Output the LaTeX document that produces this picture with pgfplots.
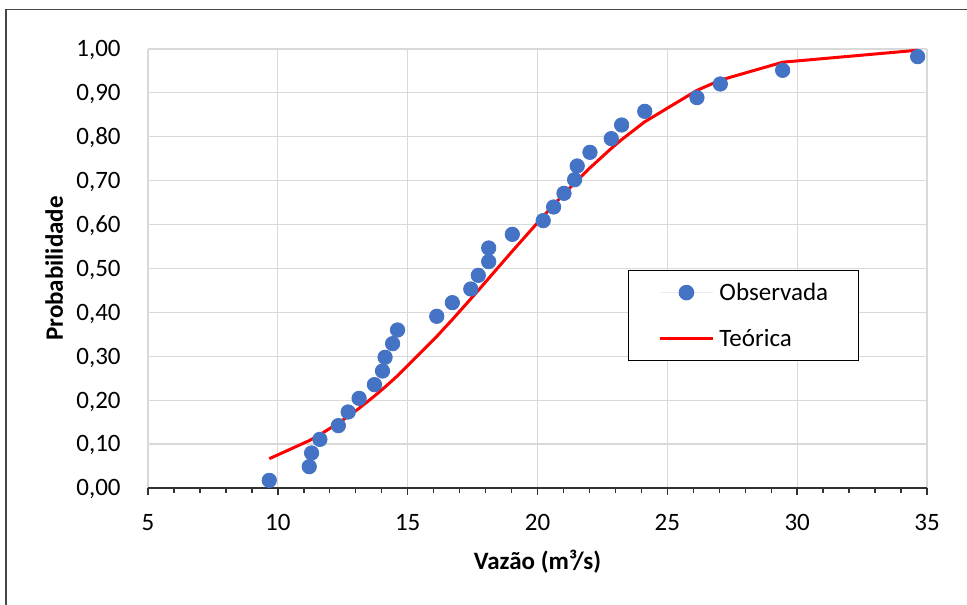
\documentclass[border=0pt]{standalone}
\usepackage{pgfplots}
\pgfplotsset{compat=1.18}
\usepackage{fontspec}
\setmainfont{Carlito}
\definecolor{obsblue}{RGB}{68,114,196}
\definecolor{gridgray}{RGB}{217,217,217}
\definecolor{framegray}{RGB}{70,70,70}
\definecolor{axisdark}{RGB}{50,50,50}
\newcommand{\fs}{\fontsize{12.5}{15}\selectfont}
\pgfplotsset{
  markleg/.style={legend image code/.code={\path[draw=none] (0pt,0pt) -- (26.5pt,0pt);
    \path[##1] plot coordinates {(13.25pt,0pt)};}},
  lineleg/.style={legend image code/.code={\draw[##1] (0pt,0pt) -- (26.5pt,0pt);}},
}
\pgfplotstableread{
x y
9.67 0.0174
11.21 0.0486
11.30 0.0797
11.62 0.1108
12.33 0.1420
12.71 0.1731
13.13 0.2042
13.72 0.2354
14.03 0.2665
14.13 0.2977
14.42 0.3288
14.61 0.3599
16.12 0.3911
16.72 0.4222
17.43 0.4533
17.72 0.4844
18.12 0.5156
18.12 0.5467
19.03 0.5778
20.22 0.6090
20.62 0.6401
21.02 0.6712
21.43 0.7023
21.53 0.7335
22.02 0.7646
22.84 0.7958
23.24 0.8269
24.13 0.8580
26.14 0.8892
27.04 0.9203
29.44 0.9514
34.64 0.9826
}\obs
\pgfplotstableread{
x y
9.67 0.0667
11.21 0.1079
11.30 0.1108
11.62 0.1215
12.33 0.1477
12.71 0.1632
13.13 0.1816
13.72 0.2094
14.03 0.2250
14.13 0.2301
14.42 0.2455
14.61 0.2558
16.12 0.3452
16.72 0.3837
17.43 0.4308
17.72 0.4503
18.12 0.4775
19.03 0.5395
20.22 0.6189
20.62 0.6447
21.02 0.6698
21.43 0.6948
21.53 0.7007
22.02 0.7292
22.84 0.7735
23.24 0.7936
24.13 0.8342
26.14 0.9057
27.04 0.9290
29.44 0.9699
34.64 0.9972
}\teo
\begin{document}
\begin{tikzpicture}[font=\fs]
\useasboundingbox (0,0) rectangle (483.5pt,302pt);
\fill[white] (0,0) rectangle (483.5pt,302pt);
\draw[framegray, line width=0.6pt] (3pt,-20pt) -- (3pt,297.35pt) -- (500pt,297.35pt);
\begin{axis}[
  at={(74pt,58pt)}, anchor=south west,
  scale only axis, width=389.5pt, height=219.5pt,
  xmin=5, xmax=35, ymin=0, ymax=1,
  axis x line*=bottom, axis y line*=left,
  y axis line style={draw=none},
  x axis line style={axisdark, line width=0.8pt},
  xtick={5,10,...,35}, minor x tick num=4,
  ytick={0,0.1,0.2,0.3,0.4,0.5,0.6,0.7,0.8,0.9,1.0},
  tick align=outside,
  x tick style={axisdark, line width=0.7pt},
  major tick length=3.5pt, minor tick length=2.5pt,
  y tick style={draw=none},
  grid=major,
  major grid style={gridgray, line width=0.6pt},
  yticklabel style={/pgf/number format/.cd, fixed, fixed zerofill, precision=2, use comma, /tikz/.cd},
  /pgf/number format/assume math mode=true,
  tick label style={font=\fs},
  yticklabel style={anchor=east, inner sep=0pt, xshift=-10pt, text height=7.9pt, text depth=0pt},
  xticklabel style={anchor=base, inner sep=0pt, yshift=-18pt},
  xlabel={Vazão (m³/s)},
  ylabel={Probabilidade},
  label style={font=\bfseries\fs},
  xlabel style={at={([yshift=-41pt]axis description cs:0.5,0)}, anchor=base},
  ylabel style={at={([xshift=-42.5pt]axis description cs:0,0.5)}, anchor=base},
  legend style={at={(0.616,0.4966)}, anchor=north west, draw=black, line width=0.6pt,
    font=\fs, inner xsep=15pt, inner ysep=6pt, row sep=13pt, column sep=2.5pt,
    nodes={inner sep=0pt, text height=9pt, text depth=1pt}},
  legend cell align=left,
]
\addplot[only marks, mark=*, mark size=3.6pt, color=obsblue, fill=obsblue, markleg]
  table[x=x,y=y]{\obs};
\addlegendentry{Observada}
\addplot[red, line width=1.5pt, line join=round, no marks, lineleg]
  table[x=x,y=y]{\teo};
\addlegendentry{Teórica}
\end{axis}
\end{tikzpicture}
\end{document}
